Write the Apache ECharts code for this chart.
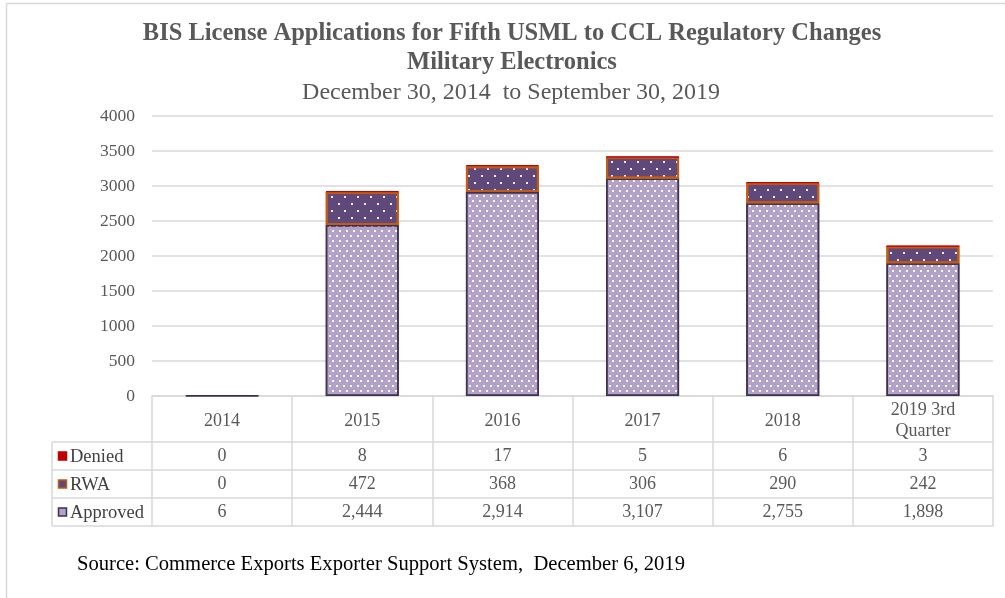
<!DOCTYPE html>
<html>
<head>
<meta charset="utf-8">
<script src="https://cdn.jsdelivr.net/npm/echarts@6/dist/echarts.min.js"></script>
<style>html,body{margin:0;padding:0;background:#fff}#c{width:1005px;height:598px}</style>
</head>
<body>
<div id="c"></div>
<script>
const categories = ['2014', '2015', '2016', '2017', '2018', '2019 3rd\nQuarter'];
const approved = [6, 2444, 2914, 3107, 2755, 1898];
const rwa = [0, 472, 368, 306, 290, 242];
const denied = [0, 8, 17, 5, 6, 3];
const rowNames = ['Denied', 'RWA', 'Approved'];
const titleLines = ['BIS License Applications for Fifth USML to CCL Regulatory Changes', 'Military Electronics'];
const subtitle = 'December 30, 2014  to September 30, 2019';
const source = 'Source: Commerce Exports Exporter Support System,  December 6, 2019';

const FONT = '"Liberation Serif", "Times New Roman", serif';
const GRID = {left: 152, right: 12, top: 116, bottom: 202};
const HEADER_H = 46, ROW_H = 28;
const LINE = '#d9d9d9';
const fmt = v => v.toLocaleString('en-US');

const C = {
  approvedFill: '#b3a2c7', approvedBorder: '#3f3151',
  rwaFill: '#5f497a', rwaBorder: '#c55a11',
  deniedFill: '#c00000'
};

const chart = echarts.init(document.getElementById('c'), null, {renderer: 'canvas'});

function rowAxis(values, offset, showLabel) {
  return {
    type: 'category', data: values, position: 'bottom', offset: offset,
    axisLine: {show: true, lineStyle: {color: LINE, width: 1.5}},
    axisTick: {show: false},
    axisLabel: {show: showLabel, interval: 0, margin: 14, verticalAlign: 'middle',
      fontFamily: FONT, fontSize: 18, color: '#595959'},
    splitLine: {show: false}
  };
}

const tableRows = [denied, rwa, approved];
const xAxes = [{
  type: 'category', data: categories, position: 'bottom',
  axisLine: {show: true, lineStyle: {color: LINE, width: 1.5}},
  axisTick: {show: true, interval: 0, length: HEADER_H + ROW_H * 3, lineStyle: {color: LINE, width: 1.5}},
  axisLabel: {interval: 0, margin: HEADER_H / 2 + 2, verticalAlign: 'middle', lineHeight: 21,
    fontFamily: FONT, fontSize: 18, color: '#595959'}
}];
tableRows.forEach((r, i) => xAxes.push(rowAxis(r.map(fmt), HEADER_H + ROW_H * i, true)));
xAxes.push(rowAxis(categories.map(() => ''), HEADER_H + ROW_H * 3, false));

const graphics = [];
graphics.push({type: 'rect', shape: {x: 6.5, y: 3.5, width: 1100, height: 700},
  style: {fill: null, stroke: LINE, lineWidth: 1.5}, silent: true});
titleLines.forEach((t, i) => graphics.push({type: 'text', x: 512, y: 34 + i * 29,
  style: {text: t, font: 'bold 24.5px ' + FONT, fill: '#595959', textAlign: 'center', textVerticalAlign: 'middle'}}));
graphics.push({type: 'text', x: 511, y: 93,
  style: {text: subtitle, font: '24px ' + FONT, fill: '#595959', textAlign: 'center', textVerticalAlign: 'middle'}});
graphics.push({type: 'text', x: 77, y: 565,
  style: {text: source, font: '20.6px ' + FONT, fill: '#000', textAlign: 'left', textVerticalAlign: 'middle'}});

const tableTop = 598 - GRID.bottom + HEADER_H;
const leftX = 52;
for (let i = 0; i <= 3; i++) {
  graphics.push({type: 'line', shape: {x1: leftX, y1: tableTop + ROW_H * i, x2: GRID.left, y2: tableTop + ROW_H * i},
    style: {stroke: LINE, lineWidth: 1.5}, silent: true});
}
graphics.push({type: 'line', shape: {x1: leftX, y1: tableTop, x2: leftX, y2: tableTop + ROW_H * 3},
  style: {stroke: LINE, lineWidth: 1.5}, silent: true});
const iconStyles = [
  {fill: C.deniedFill, stroke: C.deniedFill},
  {fill: C.rwaFill, stroke: C.rwaBorder},
  {fill: C.approvedFill, stroke: C.approvedBorder}
];
rowNames.forEach((n, i) => {
  const cy = tableTop + ROW_H * i + ROW_H / 2;
  graphics.push({type: 'rect', shape: {x: 58.5, y: cy - 4, width: 8, height: 8},
    style: Object.assign({lineWidth: 1.5}, iconStyles[i])});
  graphics.push({type: 'text', x: 70, y: cy + 1,
    style: {text: n, font: '18.5px ' + FONT, fill: '#404040', textAlign: 'left', textVerticalAlign: 'middle'}});
});

const dotsDense = {symbol: 'rect', symbolSize: 1, color: 'rgba(255,255,255,0.9)',
  dashArrayX: [[1.5, 4.5], [0, 3, 1.5, 1.5]], dashArrayY: [1.5, 2.5], rotation: 0};
const dotsSparse = {symbol: 'rect', symbolSize: 1, color: 'rgba(255,255,255,0.9)',
  dashArrayX: [[1.5, 10.5], [0, 6, 1.5, 4.5]], dashArrayY: [1.5, 4.5], rotation: 0};

chart.setOption({
  animation: false,
  backgroundColor: '#ffffff',
  grid: GRID,
  xAxis: xAxes,
  yAxis: {
    type: 'value', min: 0, max: 4000, interval: 500,
    axisLine: {show: false}, axisTick: {show: false},
    axisLabel: {margin: 17, fontFamily: FONT, fontSize: 17.5, color: '#595959', formatter: v => String(v)},
    splitLine: {lineStyle: {color: LINE, width: 1.5}}
  },
  series: [
    {name: 'Approved', type: 'bar', stack: 'total', data: approved, barWidth: 73,
      itemStyle: {color: C.approvedFill, borderColor: C.approvedBorder, borderWidth: 1.5, decal: dotsDense}},
    {name: 'RWA', type: 'bar', stack: 'total', data: rwa.map(v => v === 0 ? null : v),
      itemStyle: {color: C.rwaFill, borderColor: C.rwaBorder, borderWidth: 2, decal: dotsSparse}},
    {name: 'Denied', type: 'bar', stack: 'total', data: denied.map(v => v === 0 ? null : v),
      itemStyle: {color: C.deniedFill, borderColor: C.deniedFill, borderWidth: 1}}
  ],
  graphic: graphics
});
</script>
</body>
</html>
